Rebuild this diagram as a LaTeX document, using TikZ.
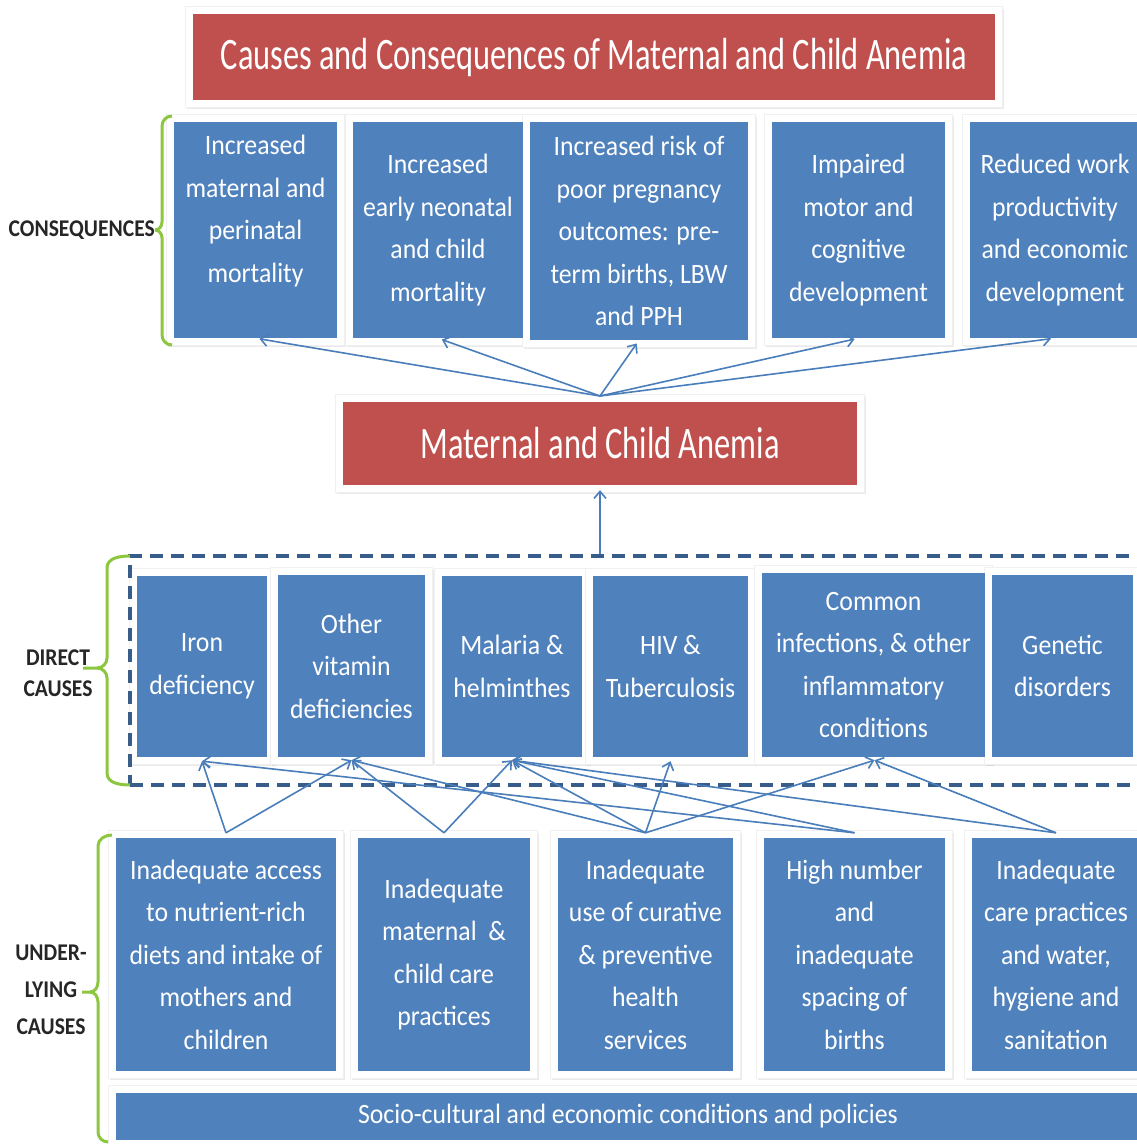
\documentclass[tikz,border=0pt]{standalone}
\usepackage{fontspec}
\setmainfont{Carlito}[FakeStretch=0.92]
\newfontfamily\titlefont{Carlito}[FakeStretch=0.72]
\newfontfamily\labelfont{Carlito}[FakeStretch=0.9]
\usetikzlibrary{arrows.meta,shadows,backgrounds,calc}
\definecolor{boxblue}{HTML}{4F81BD}
\definecolor{boxred}{HTML}{C0504D}
\definecolor{arrblue}{HTML}{4A7EBB}
\definecolor{dashblue}{HTML}{385D8A}
\definecolor{bracegreen}{HTML}{8DC63F}
\newcommand{\bodyfont}{\fontsize{28}{42.5}\selectfont}
\begin{document}
\begin{tikzpicture}[x=1pt,y=-1pt,
  bluebox/.style={fill=boxblue, text=white, align=center, inner sep=0pt, font=\bodyfont},
  redbox/.style={fill=boxred, text=white, align=center, inner sep=0pt, font=\titlefont\fontsize{45}{54}\selectfont},
  framebg/.style={fill=white, draw=black!6, line width=0.8pt, drop shadow={opacity=0.16, shadow xshift=1.5pt, shadow yshift=-2pt}},
  arr/.style={draw=arrblue, line width=1.6pt, -{Straight Barb[length=7pt,width=12pt]}},
  brace/.style={draw=bracegreen, line width=3pt},
  sidelabel/.style={font=\labelfont\bfseries\fontsize{24}{31}\selectfont, align=center, inner sep=0pt, text=black!85},
]
\useasboundingbox (0,0) rectangle (1137,1144);

% title and anemia
\node[redbox, minimum width=802pt, minimum height=86pt] (title) at (594,57) {Causes and Consequences of Maternal and Child Anemia};
\node[redbox, minimum width=514pt, minimum height=83pt] (anemia) at (600,443.5) {Maternal and Child Anemia};

% consequences
\node[bluebox, minimum width=163pt, minimum height=216pt] (C1) at (255.5,230) {Increased\\maternal and\\perinatal\\mortality\\\mbox{}};
\node[bluebox, minimum width=170pt, minimum height=216pt] (C2) at (438,230) {Increased\\early neonatal\\and child\\mortality};
\node[bluebox, minimum width=218pt, minimum height=218pt] (C3) at (639,231) {Increased risk of\\poor pregnancy\\outcomes: pre-\\term births, LBW\\and PPH};
\node[bluebox, minimum width=173pt, minimum height=216pt] (C4) at (858.5,230) {Impaired\\motor and\\cognitive\\development};
\node[bluebox, minimum width=170pt, minimum height=216pt] (C5) at (1055,230) {Reduced work\\productivity\\and economic\\development};

% direct causes
\node[bluebox, minimum width=130pt, minimum height=181pt] (D1) at (202,666.5) {Iron\\deficiency};
\node[bluebox, minimum width=147pt, minimum height=182pt] (D2) at (351.5,666) {Other\\vitamin\\deficiencies};
\node[bluebox, minimum width=140pt, minimum height=181pt] (D3) at (512,666.5) {Malaria \&\\helminthes};
\node[bluebox, minimum width=155pt, minimum height=181pt] (D4) at (670.5,666.5) {HIV \&\\Tuberculosis};
\node[bluebox, minimum width=223pt, minimum height=184pt] (D5) at (873.5,665) {Common\\infections, \& other\\inflammatory\\conditions};
\node[bluebox, minimum width=141pt, minimum height=182pt] (D6) at (1062.5,666) {Genetic\\disorders};

% underlying causes
\node[bluebox, minimum width=220pt, minimum height=233pt] (U1) at (226,954.5) {Inadequate access\\to nutrient-rich\\diets and intake of\\mothers and\\children};
\node[bluebox, minimum width=172pt, minimum height=233pt] (U2) at (444,954.5) {Inadequate\\maternal\ \ \&\\child care\\practices};
\node[bluebox, minimum width=175pt, minimum height=233pt] (U3) at (645.5,954.5) {Inadequate\\use of curative\\\& preventive\\health\\services};
\node[bluebox, minimum width=181pt, minimum height=233pt] (U4) at (854.5,954.5) {High number\\and\\inadequate\\spacing of\\births};
\node[bluebox, minimum width=168pt, minimum height=233pt] (U5) at (1056,954.5) {Inadequate\\care practices\\and water,\\hygiene and\\sanitation};
\node[bluebox, minimum width=1024pt, minimum height=47pt] (socio) at (628,1116.5) {Socio-cultural and economic conditions and policies};

% white frames with soft shadows
\begin{scope}[on background layer]
  \fill[white] (0,0) rectangle (1137,1144);
  \foreach \n in {title,anemia,C1,C2,C3,C4,C5,D1,D2,D3,D4,D5,D6,U1,U2,U3,U4,U5,socio}
    \path[framebg] ([shift={(-7,7)}]\n.south west) rectangle ([shift={(7,-7)}]\n.north east);
\end{scope}

% dashed group of direct causes
\node[draw=dashblue, line width=3.5pt, dash pattern=on 13pt off 8pt, minimum width=1015pt, minimum height=229pt, inner sep=0pt] (direct) at (637.5,670.5) {};

% arrows anemia -> consequences
\coordinate (hub) at (600,396);
\foreach \n in {C1,C2,C3,C4,C5}
  \draw[arr, shorten >=4pt] (hub) -- (\n.south);

% arrow direct causes -> anemia
\draw[arr] (anemia.south |- direct.north) -- ([yshift=-5pt]anemia.south);

% arrows underlying -> direct
\foreach \n in {U1,U2,U3,U4,U5}
  \coordinate (\n o) at ([yshift=5pt]\n.north);
\coordinate (d1) at ([yshift=-4pt]D1.south);
\coordinate (d2) at ([yshift=-3pt]D2.south);
\coordinate (d3) at ([yshift=-3pt]D3.south);
\coordinate (d4) at ([yshift=-4pt]D4.south);
\coordinate (d5) at ([xshift=1pt,yshift=-3pt]D5.south);
\draw[arr] (U1o) -- (d1);
\draw[arr] (U1o) -- (d2);
\draw[arr] (U2o) -- (d2);
\draw[arr] (U2o) -- (d3);
\draw[arr] (U3o) -- (d2);
\draw[arr] (U3o) -- (d3);
\draw[arr] (U3o) -- (d4);
\draw[arr] (U3o) -- (d5);
\draw[arr] (U4o) -- (d1);
\draw[arr] (U4o) -- (d3);
\draw[arr] (U5o) -- (d3);
\draw[arr] (U5o) -- (d5);

% side labels
\node[sidelabel, anchor=east] (lc) at (155,230) {CONSEQUENCES};
\node[sidelabel] (ld) at (58,673) {DIRECT\\CAUSES};
\node[sidelabel, font=\labelfont\bfseries\fontsize{24}{37}\selectfont] (lu) at (51,990) {UNDER-\\LYING\\CAUSES};

% braces
\draw[brace] (172,116) to[out=180,in=90] (162,126) -- (162,222) to[out=-90,in=0] (155,230);
\draw[brace] (155,230) to[out=0,in=90] (162,238) -- (162,335) to[out=-90,in=180] (172,345);

\draw[brace] (130,556) to[out=180,in=90] (107,568) -- (107,658) to[out=-90,in=0] (97,668) -- (83,668);
\draw[brace] (97,668) to[out=0,in=90] (107,678) -- (107,773) to[out=-90,in=180] (130,785);

\draw[brace] (112,835) to[out=180,in=90] (98,846) -- (98,982) to[out=-90,in=0] (90,992) -- (82,992);
\draw[brace] (90,992) to[out=0,in=90] (98,1002) -- (98,1132) to[out=-90,in=180] (108,1142);
\end{tikzpicture}
\end{document}
